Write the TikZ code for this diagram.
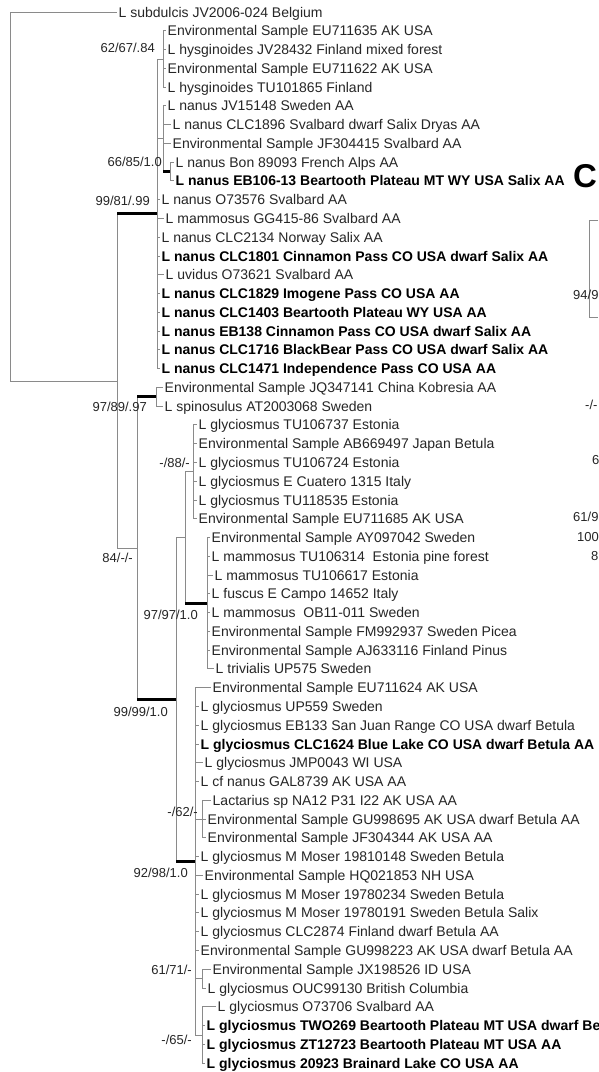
\documentclass[tikz,border=0pt]{standalone}
\usepackage{fontspec}
\setmainfont{Liberation Sans}
\definecolor{BranchGray}{HTML}{8A8A8A}
\definecolor{TipInk}{HTML}{262626}

\begin{document}
\begin{tikzpicture}[
    x=1pt, y=-1pt,
    leaf/.style={anchor=west, inner xsep=1.5pt, inner ysep=0pt, text height=10pt, text depth=0pt, font=\fontsize{14}{16}\selectfont, text=TipInk},
    hit/.style={leaf, font=\fontsize{14}{16}\selectfont\bfseries, text=black},
    support/.style={anchor=east, inner sep=0pt, text height=9.3pt, text depth=0pt, font=\fontsize{13}{15}\selectfont, text=TipInk},
    panel/.style={anchor=base west, inner sep=0pt, font=\fontsize{33}{36}\selectfont\bfseries},
    branch/.style={draw=BranchGray, line width=0.9pt},
    heavy/.style={draw=black, line width=3pt}
  ]
    \useasboundingbox (0,0) rectangle (598,1072);
    \fill[white] (0,0) rectangle (598,1072);
    \clip (0,0) rectangle (598,1072);

    % inner nodes of the tree
    \coordinate (root) at (10,196.5);
    \coordinate (ingroup) at (117,381);
    \coordinate (nanusA) at (157,213.8);
    \coordinate (hysg) at (163,59);
    \coordinate (nanusN) at (163,138.7);
    \coordinate (bonP) at (170,171.6);
    \coordinate (glycB) at (137,548.2);
    \coordinate (spinS) at (156,396.8);
    \coordinate (glycC) at (176,699.5);
    \coordinate (glycD) at (185,537.6);
    \coordinate (glycG) at (193,471.9);
    \coordinate (mammM) at (207,603.3);
    \coordinate (glycE) at (195,861.4);
    \coordinate (lactL) at (202,819.1);
    \coordinate (jxJ) at (202,978.6);
    \coordinate (twoO) at (202,1035);

    % tips
    \node[leaf] (l1) at (117,12) {L subdulcis JV2006-024 Belgium};
    \node[leaf] (l2) at (166,30.8) {Environmental Sample EU711635 AK USA};
    \node[leaf] (l3) at (166,49.5) {L hysginoides JV28432 Finland mixed forest};
    \node[leaf] (l4) at (166,68.3) {Environmental Sample EU711622 AK USA};
    \node[leaf] (l5) at (166,87.1) {L hysginoides TU101865 Finland};
    \node[leaf] (l6) at (166,105.9) {L nanus JV15148 Sweden AA};
    \node[leaf] (l7) at (171,124.6) {L nanus CLC1896 Svalbard dwarf Salix Dryas AA};
    \node[leaf] (l8) at (171,143.4) {Environmental Sample JF304415 Svalbard AA};
    \node[leaf] (l9) at (174,162.2) {L nanus Bon 89093 French Alps AA};
    \node[hit] (l10) at (174,180.9) {L nanus EB106-13 Beartooth Plateau MT WY USA Salix AA};
    \node[leaf] (l11) at (160,199.7) {L nanus O73576 Svalbard AA};
    \node[leaf] (l12) at (164,218.5) {L mammosus GG415-86 Svalbard AA};
    \node[leaf] (l13) at (160,237.2) {L nanus CLC2134 Norway Salix AA};
    \node[hit] (l14) at (160,256) {L nanus CLC1801 Cinnamon Pass CO USA dwarf Salix AA};
    \node[leaf] (l15) at (164,274.8) {L uvidus O73621 Svalbard AA};
    \node[hit] (l16) at (160,293.6) {L nanus CLC1829 Imogene Pass CO USA AA};
    \node[hit] (l17) at (160,312.3) {L nanus CLC1403 Beartooth Plateau WY USA AA};
    \node[hit] (l18) at (160,331.1) {L nanus EB138 Cinnamon Pass CO USA dwarf Salix AA};
    \node[hit] (l19) at (160,349.9) {L nanus CLC1716 BlackBear Pass CO USA dwarf Salix AA};
    \node[hit] (l20) at (160,368.6) {L nanus CLC1471 Independence Pass CO USA AA};
    \node[leaf] (l21) at (163,387.4) {Environmental Sample JQ347141 China Kobresia AA};
    \node[leaf] (l22) at (163,406.2) {L spinosulus AT2003068 Sweden};
    \node[leaf] (l23) at (197,424.9) {L glyciosmus TU106737 Estonia};
    \node[leaf] (l24) at (197,443.7) {Environmental Sample AB669497 Japan Betula};
    \node[leaf] (l25) at (197,462.5) {L glyciosmus TU106724 Estonia};
    \node[leaf] (l26) at (197,481.2) {L glyciosmus E Cuatero 1315 Italy};
    \node[leaf] (l27) at (197,500) {L glyciosmus TU118535 Estonia};
    \node[leaf] (l28) at (197,518.8) {Environmental Sample EU711685 AK USA};
    \node[leaf] (l29) at (210,537.6) {Environmental Sample AY097042 Sweden};
    \node[leaf] (l30) at (210,556.3) {L mammosus TU106314\ \ Estonia pine forest};
    \node[leaf] (l31) at (213,575.1) {L mammosus TU106617 Estonia};
    \node[leaf] (l32) at (210,593.9) {L fuscus E Campo 14652 Italy};
    \node[leaf] (l33) at (210,612.6) {L mammosus\ \ OB11-011 Sweden};
    \node[leaf] (l34) at (210,631.4) {Environmental Sample FM992937 Sweden Picea};
    \node[leaf] (l35) at (210,650.2) {Environmental Sample AJ633116 Finland Pinus};
    \node[leaf] (l36) at (214,668.9) {L trivialis UP575 Sweden};
    \node[leaf] (l37) at (211,687.7) {Environmental Sample EU711624 AK USA};
    \node[leaf] (l38) at (199,706.5) {L glyciosmus UP559 Sweden};
    \node[leaf] (l39) at (199,725.2) {L glyciosmus EB133 San Juan Range CO USA dwarf Betula};
    \node[hit] (l40) at (199,744) {L glyciosmus CLC1624 Blue Lake CO USA dwarf Betula AA};
    \node[leaf] (l41) at (203,762.8) {L glyciosmus JMP0043 WI USA};
    \node[leaf] (l42) at (199,781.6) {L cf nanus GAL8739 AK USA AA};
    \node[leaf] (l43) at (211,800.3) {Lactarius sp NA12 P31 I22 AK USA AA};
    \node[leaf] (l44) at (206,819.1) {Environmental Sample GU998695 AK USA dwarf Betula AA};
    \node[leaf] (l45) at (206,837.9) {Environmental Sample JF304344 AK USA AA};
    \node[leaf] (l46) at (199,856.6) {L glyciosmus M Moser 19810148 Sweden Betula};
    \node[leaf] (l47) at (203,875.4) {Environmental Sample HQ021853 NH USA};
    \node[leaf] (l48) at (199,894.2) {L glyciosmus M Moser 19780234 Sweden Betula};
    \node[leaf] (l49) at (199,912.9) {L glyciosmus M Moser 19780191 Sweden Betula Salix};
    \node[leaf] (l50) at (199,931.7) {L glyciosmus CLC2874 Finland dwarf Betula AA};
    \node[leaf] (l51) at (199,950.5) {Environmental Sample GU998223 AK USA dwarf Betula AA};
    \node[leaf] (l52) at (211,969.2) {Environmental Sample JX198526 ID USA};
    \node[leaf] (l53) at (206,988) {L glyciosmus OUC99130 British Columbia};
    \node[leaf] (l54) at (216,1006.8) {L glyciosmus O73706 Svalbard AA};
    \node[hit] (l55) at (205,1025.5) {L glyciosmus TWO269 Beartooth Plateau MT USA dwarf Be};
    \node[hit] (l56) at (205,1044.3) {L glyciosmus ZT12723 Beartooth Plateau MT USA AA};
    \node[hit] (l57) at (205,1063.1) {L glyciosmus 20923 Brainard Lake CO USA AA};

    % branches
    \draw[branch] (root) |- (l1.west) (root) |- (ingroup);
    \draw[branch] (ingroup) |- (nanusA) (ingroup) |- (glycB);
    \draw[branch] (nanusA) |- (hysg) (nanusA) |- (nanusN) (nanusA) |- (l11.west) (nanusA) |- (l12.west)
      (nanusA) |- (l13.west) (nanusA) |- (l14.west) (nanusA) |- (l15.west) (nanusA) |- (l16.west)
      (nanusA) |- (l17.west) (nanusA) |- (l18.west) (nanusA) |- (l19.west) (nanusA) |- (l20.west);
    \draw[branch] (hysg) |- (l2.west) (hysg) |- (l3.west) (hysg) |- (l4.west) (hysg) |- (l5.west);
    \draw[branch] (nanusN) |- (l6.west) (nanusN) |- (l7.west) (nanusN) |- (l8.west) (nanusN) |- (bonP);
    \draw[branch] (bonP) |- (l9.west) (bonP) |- (l10.west);
    \draw[branch] (glycB) |- (spinS) (glycB) |- (glycC);
    \draw[branch] (spinS) |- (l21.west) (spinS) |- (l22.west);
    \draw[branch] (glycC) |- (glycD) (glycC) |- (glycE);
    \draw[branch] (glycD) |- (glycG) (glycD) |- (mammM);
    \draw[branch] (glycG) |- (l23.west) (glycG) |- (l24.west) (glycG) |- (l25.west)
      (glycG) |- (l26.west) (glycG) |- (l27.west) (glycG) |- (l28.west);
    \draw[branch] (mammM) |- (l29.west) (mammM) |- (l30.west) (mammM) |- (l31.west) (mammM) |- (l32.west)
      (mammM) |- (l33.west) (mammM) |- (l34.west) (mammM) |- (l35.west) (mammM) |- (l36.west);
    \draw[branch] (glycE) |- (l37.west) (glycE) |- (l38.west) (glycE) |- (l39.west) (glycE) |- (l40.west)
      (glycE) |- (l41.west) (glycE) |- (l42.west) (glycE) |- (lactL) (glycE) |- (l46.west)
      (glycE) |- (l47.west) (glycE) |- (l48.west) (glycE) |- (l49.west) (glycE) |- (l50.west)
      (glycE) |- (l51.west) (glycE) |- (jxJ) (glycE) |- (twoO);
    \draw[branch] (lactL) |- (l43.west) (lactL) |- (l44.west) (lactL) |- (l45.west);
    \draw[branch] (jxJ) |- (l52.west) (jxJ) |- (l53.west);
    \draw[branch] (twoO) |- (l54.west) (twoO) |- (l55.west) (twoO) |- (l56.west) (twoO) |- (l57.west);

    % strongly supported branches
    \draw[heavy] (ingroup |- nanusA) -- (nanusA);
    \draw[heavy] (nanusN |- bonP) -- (bonP);
    \draw[heavy] (glycB |- spinS) -- (spinS);
    \draw[heavy] (glycB |- glycC) -- (glycC);
    \draw[heavy] (glycD |- mammM) -- (mammM);
    \draw[heavy] (glycC |- glycE) -- (glycE);

    % support values
    \node[support] (s62) at (155,48) {62/67/.84};
    \node[support] (s66) at (162,162) {66/85/1.0};
    \node[support] (s99a) at (150,201) {99/81/.99};
    \node[support] (s97a) at (147,407) {97/89/.97};
    \node[support] (s84) at (133,558) {84/-/-};
    \node[support] (s88) at (190,463) {-/88/-};
    \node[support] (s97b) at (198,615) {97/97/1.0};
    \node[support] (s99b) at (168,712) {99/99/1.0};
    \node[support] (s62b) at (198,812) {-/62/-};
    \node[support] (s92) at (188,873) {92/98/1.0};
    \node[support] (s61) at (192,970) {61/71/-};
    \node[support] (s65) at (192,1040) {-/65/-};

    % edge of the next panel
    \node[panel] (panelC) at (573,187) {C};
    \coordinate (boxTR) at (598,220);
    \coordinate (boxTL) at (589,220);
    \coordinate (boxBL) at (589,317);
    \coordinate (boxBR) at (598,317);
    \draw[branch] (boxTR) -- (boxTL) -- (boxBL) -- (boxBR);
    \node[support, anchor=west] (c94) at (573,295) {94/9};
    \node[support, anchor=west] (cdash) at (585,405) {-/-};
    \node[support, anchor=west] (csix) at (592,460) {6};
    \node[support, anchor=west] (c61) at (573,517) {61/9};
    \node[support, anchor=west] (c100) at (577,537) {100};
    \node[support, anchor=west] (ceight) at (591,556) {8};
  \end{tikzpicture}
\end{document}
